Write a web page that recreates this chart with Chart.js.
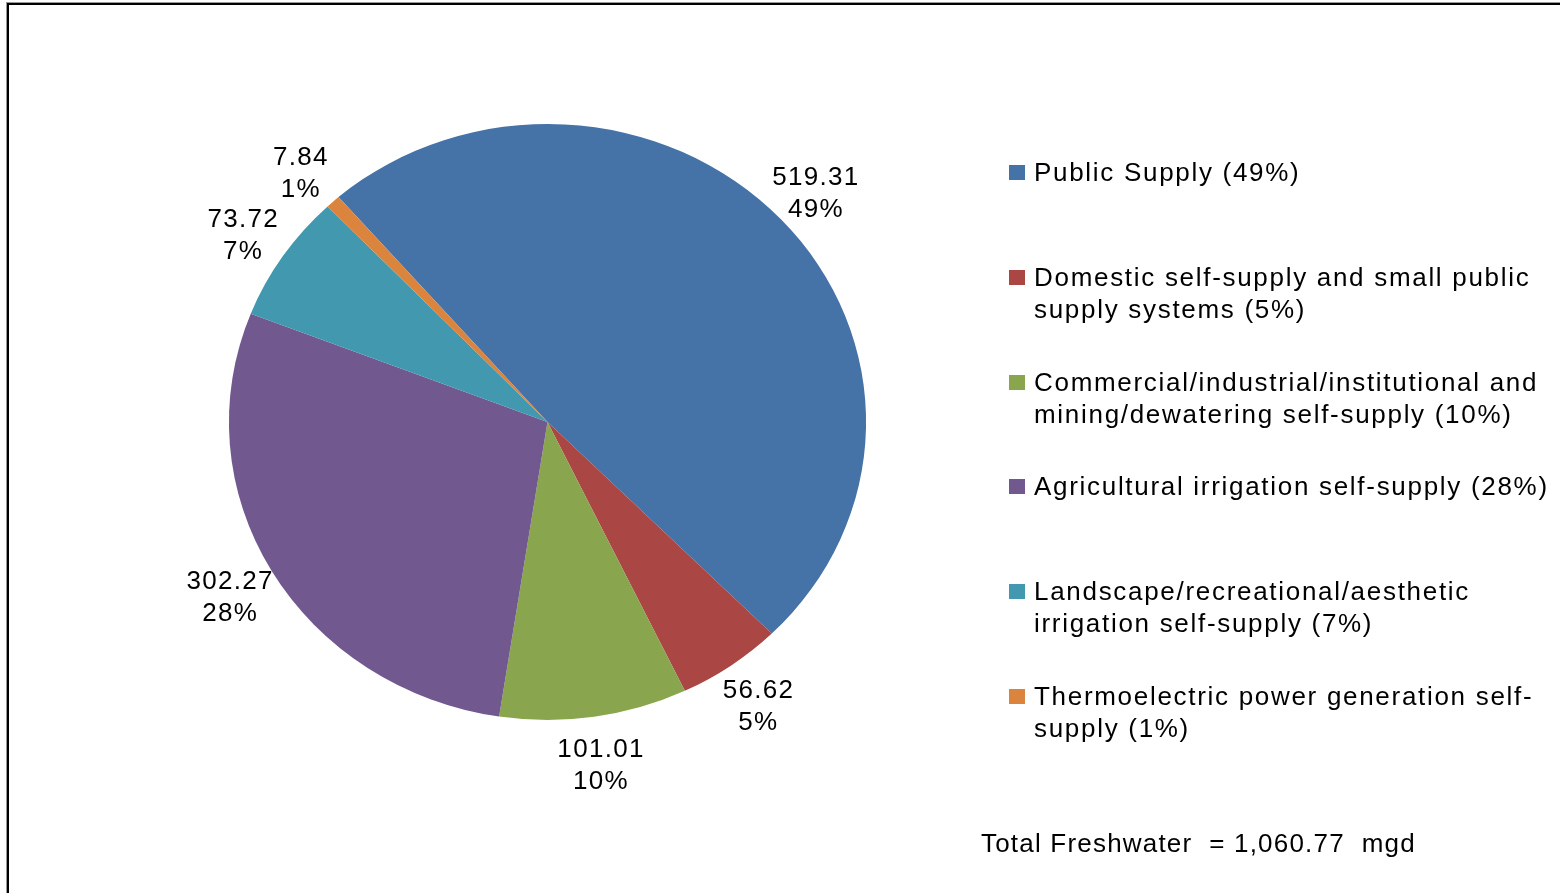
<!DOCTYPE html>
<html>
<head>
<meta charset="utf-8">
<script src="https://cdn.jsdelivr.net/npm/chart.js@4.4.0/dist/chart.umd.min.js"></script>
<style>
  html, body { margin: 0; padding: 0; background: #fff; overflow: hidden; }
  body { width: 1560px; height: 893px; position: relative; font-family: "Liberation Sans", Arial, sans-serif; }
  #frame { position: absolute; left: 7px; top: 3px; width: 1600px; height: 1000px; border-left: 2px solid #000; border-top: 2px solid #000; box-shadow: -1px -1px 0 #999; }
  #chart { position: absolute; left: 0; top: 0; }
  #legend { position: absolute; left: 1009px; top: 156px; }
  .item { position: relative; height: 104.8px; padding-left: 25px; font-size: 26px; line-height: 32px; letter-spacing: 1.7px; color: #000; white-space: nowrap; }
  .item .box { position: absolute; left: 0; top: 9px; width: 16px; height: 15px; }
  #total { position: absolute; left: 981px; top: 827px; font-size: 26px; line-height: 32px; letter-spacing: 1.2px; white-space: pre; color: #000; }
</style>
</head>
<body>
<div id="frame"></div>
<canvas id="chart" width="1560" height="893"></canvas>
<div id="legend"></div>
<div id="total"></div>
<script>
// values in mgd
const categories = [
  'Public Supply',
  'Domestic self-supply and small public supply systems',
  'Commercial/industrial/institutional and mining/dewatering self-supply',
  'Agricultural irrigation self-supply',
  'Landscape/recreational/aesthetic irrigation self-supply',
  'Thermoelectric power generation self-supply'
];
// legend wrapping as in the original
const legendLines = [
  ['Public Supply'],
  ['Domestic self-supply and small public', 'supply systems'],
  ['Commercial/industrial/institutional and', 'mining/dewatering self-supply'],
  ['Agricultural irrigation self-supply'],
  ['Landscape/recreational/aesthetic', 'irrigation self-supply'],
  ['Thermoelectric power generation self-', 'supply']
];
const values = [519.31, 56.62, 101.01, 302.27, 73.72, 7.84];
const colors = ['#4572A7', '#AA4643', '#89A54E', '#71588F', '#4198AF', '#DB843D'];

const total = values.reduce((a, b) => a + b, 0);
const pct = values.map(v => Math.round(v / total * 100));

// legend
const legend = document.getElementById('legend');
legendLines.forEach((lines, i) => {
  const div = document.createElement('div');
  div.className = 'item';
  const box = document.createElement('span');
  box.className = 'box';
  box.style.background = colors[i];
  div.appendChild(box);
  const last = lines.length - 1;
  lines.forEach((ln, j) => {
    const s = document.createElement('div');
    s.textContent = j === last ? ln + ' (' + pct[i] + '%)' : ln;
    div.appendChild(s);
  });
  legend.appendChild(div);
});

document.getElementById('total').textContent =
  'Total Freshwater  = ' + total.toLocaleString('en-US', { minimumFractionDigits: 2, maximumFractionDigits: 2 }) + '  mgd';

const STRETCH = 1.069;

// the original pie is a bit wider than tall
const stretchPlugin = {
  id: 'stretch',
  beforeDatasetsDraw(chart) {
    const arc = chart.getDatasetMeta(0).data[0];
    const ctx = chart.ctx;
    ctx.save();
    ctx.translate(arc.x, arc.y);
    ctx.scale(STRETCH, 1);
    ctx.translate(-arc.x, -arc.y);
  },
  afterDatasetsDraw(chart) {
    chart.ctx.restore();
  }
};

// value + percent labels outside each slice
const labelPlugin = {
  id: 'sliceLabels',
  afterDraw(chart) {
    const ctx = chart.ctx;
    const arcs = chart.getDatasetMeta(0).data;
    ctx.save();
    ctx.font = '26px "Liberation Sans", Arial, sans-serif';
    if ('letterSpacing' in ctx) ctx.letterSpacing = '1.3px';
    ctx.fillStyle = '#000';
    ctx.textAlign = 'center';
    ctx.textBaseline = 'middle';
    arcs.forEach((arc, i) => {
      const mid = (arc.startAngle + arc.endAngle) / 2;
      const r = arc.outerRadius * 1.15;
      const x = arc.x + Math.cos(mid) * r * STRETCH;
      const y = arc.y + Math.sin(mid) * r + 5;
      ctx.fillText(values[i].toFixed(2), x, y - 16);
      ctx.fillText(pct[i] + '%', x, y + 16);
    });
    ctx.restore();
  }
};

new Chart(document.getElementById('chart'), {
  type: 'pie',
  data: {
    labels: categories,
    datasets: [{
      data: values,
      backgroundColor: colors,
      borderWidth: 0
    }]
  },
  options: {
    responsive: false,
    animation: false,
    rotation: -41,
    layout: { padding: { top: 124, bottom: 173, left: 249.5, right: 714.5 } },
    plugins: {
      legend: { display: false },
      tooltip: { enabled: false }
    }
  },
  plugins: [stretchPlugin, labelPlugin]
});
</script>
</body>
</html>
